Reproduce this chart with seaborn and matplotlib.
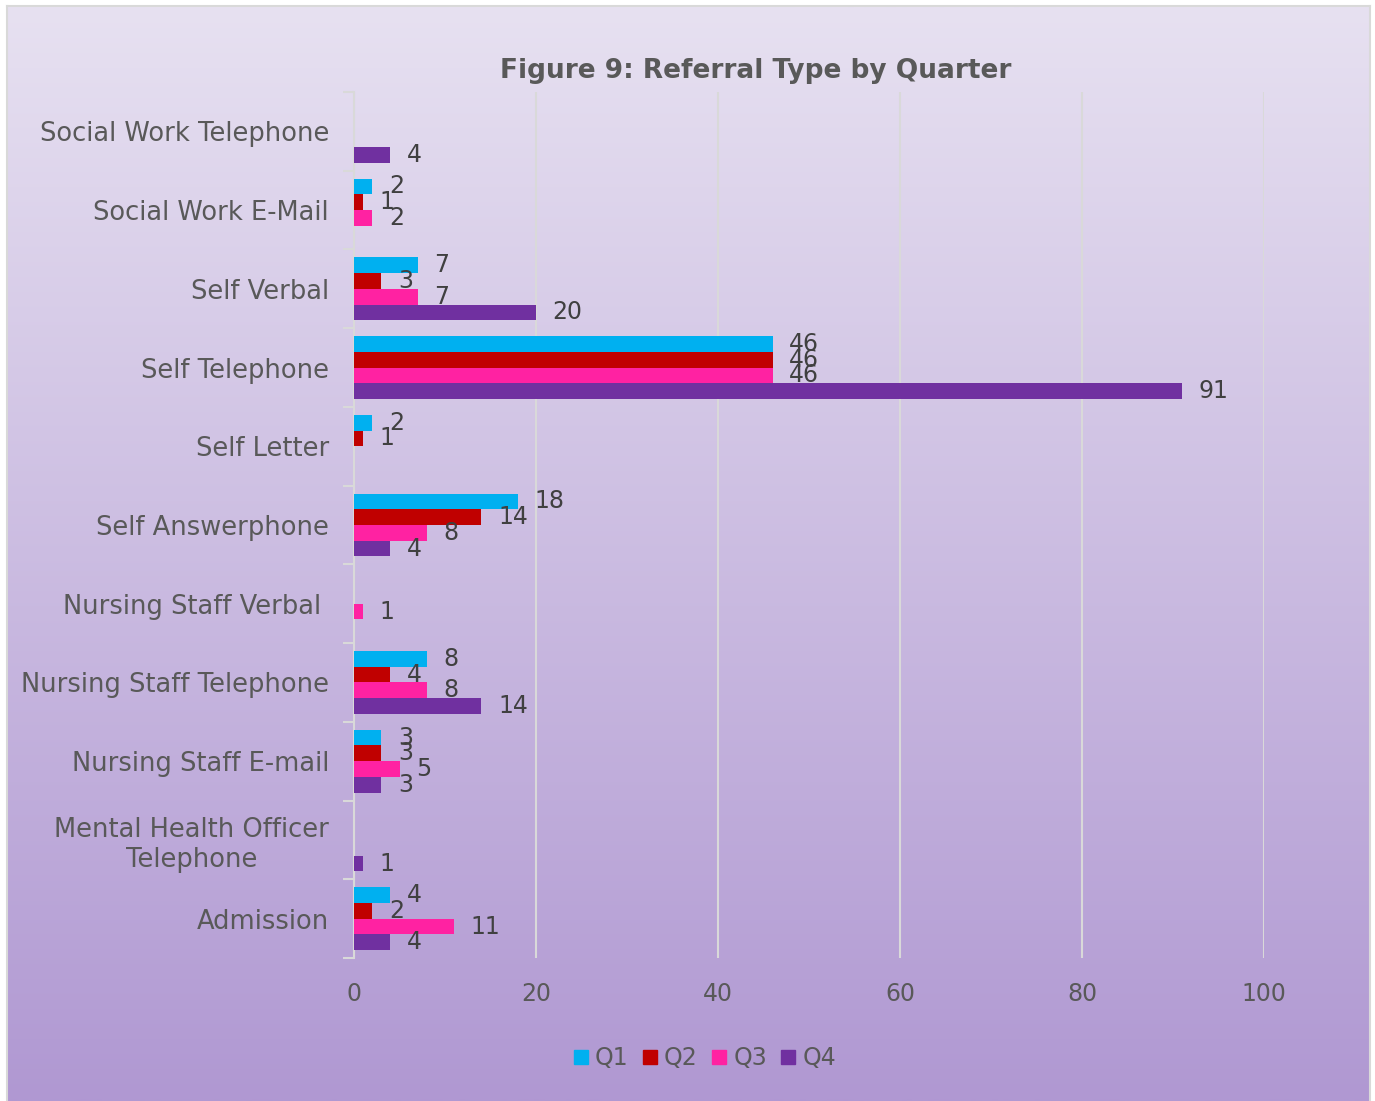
import numpy as np
import pandas as pd
import matplotlib
matplotlib.use("Agg")
import matplotlib.pyplot as plt
from matplotlib.lines import Line2D
from matplotlib.ticker import FixedLocator
import seaborn as sns

# Referral types, listed top to bottom
categories = [
    "Social Work Telephone",
    "Social Work E-Mail",
    "Self Verbal",
    "Self Telephone",
    "Self Letter",
    "Self Answerphone",
    "Nursing Staff Verbal ",
    "Nursing Staff Telephone",
    "Nursing Staff E-mail",
    "Mental Health Officer\nTelephone",
    "Admission",
]
quarters = ["Q1", "Q2", "Q3", "Q4"]

# Referral counts per quarter (None = no referrals recorded)
q1 = [None, 2, 7, 46, 2, 18, None, 8, 3, None, 4]
q2 = [None, 1, 3, 46, 1, 14, None, 4, 3, None, 2]
q3 = [None, 2, 7, 46, None, 8, 1, 8, 5, None, 11]
q4 = [4, None, 20, 91, None, 4, None, 14, 3, 1, 4]

x_ticks = [0, 20, 40, 60, 80, 100]
palette = ["#00B0F0", "#C00000", "#FF22A2", "#7030A0"]

rows = []
for q, vals in zip(quarters, [q1, q2, q3, q4]):
    for cat, v in zip(categories, vals):
        if v is not None:
            rows.append({"Referral": cat, "Quarter": q, "Count": v})
df = pd.DataFrame(rows)

plt.rcParams["font.family"] = ["DejaVu Sans"]

W, H = 1375, 1101
fig = plt.figure(figsize=(W / 100, H / 100), dpi=100)
fig.patch.set_facecolor("white")

# Gradient panel behind the chart
bg = fig.add_axes([7 / W, 0, (1370 - 7) / W, (H - 6) / H], zorder=0)
top = np.array([231, 225, 241]) / 255
bot = np.array([176, 152, 210]) / 255
t = np.linspace(0, 1, 256)[:, None]
grad = (top[None, :] * (1 - t) + bot[None, :] * t)[:, None, :]
bg.imshow(grad, aspect="auto", extent=[0, 1, 0, 1], interpolation="bilinear")
bg.set_xticks([])
bg.set_yticks([])
for s in bg.spines.values():
    s.set_color("#D9D9D9")
    s.set_linewidth(1.5)
bg.spines["bottom"].set_visible(False)

ax = fig.add_axes([354 / W, 1 - 958 / H, (1264 - 354) / W, (958 - 92) / H], zorder=1)
ax.set_facecolor("none")

sns.barplot(
    data=df, y="Referral", x="Count", hue="Quarter",
    order=categories, hue_order=quarters, palette=palette,
    orient="h", width=0.8, saturation=1, errorbar=None,
    legend=False, ax=ax, zorder=3,
)

for cont in ax.containers:
    ax.bar_label(
        cont, labels=[f"{v:g}" for v in cont.datavalues],
        padding=12, fontsize=17, color="#404040",
    )

ax.set_xlim(0, 100)
ax.set_ylim(len(categories) - 0.5, -0.5)
ax.set_xticks(x_ticks)
ax.set_xlabel("")
ax.set_ylabel("")
ax.grid(axis="x", color="#D9D9D9", linewidth=1.5, zorder=0)
ax.grid(axis="y", visible=False)
ax.set_axisbelow(True)

for name in ["top", "right", "bottom"]:
    ax.spines[name].set_visible(False)
ax.spines["left"].set_color("#D9D9D9")
ax.spines["left"].set_linewidth(1.5)

ax.tick_params(axis="x", length=0, pad=17, labelsize=17, labelcolor="#595959")
ax.tick_params(axis="y", which="major", length=0, pad=18, labelsize=18.5, labelcolor="#595959")
ax.yaxis.set_minor_locator(FixedLocator(np.arange(-0.5, len(categories), 1.0)))
ax.tick_params(axis="y", which="minor", length=8, width=1.5, color="#D9D9D9")
for lab in ax.get_yticklabels():
    lab.set_multialignment("center")

ax.set_title("Figure 9: Referral Type by Quarter", fontsize=19, fontweight="bold",
             color="#595959", pad=0, va="center",
             x=(756 - 354) / (1264 - 354), y=1 + (92 - 71) / (958 - 92))

handles = [Line2D([], [], marker="s", linestyle="", color=c, markersize=9.5) for c in palette]
fig.legend(
    handles, quarters, loc="center", bbox_to_anchor=(705 / W, 1 - 1058 / H),
    ncol=4, frameon=False, fontsize=17, labelcolor="#595959",
    handlelength=0.6, handletextpad=0.3, columnspacing=0.6,
)

fig.savefig("out.png", dpi=100, facecolor=fig.get_facecolor())
